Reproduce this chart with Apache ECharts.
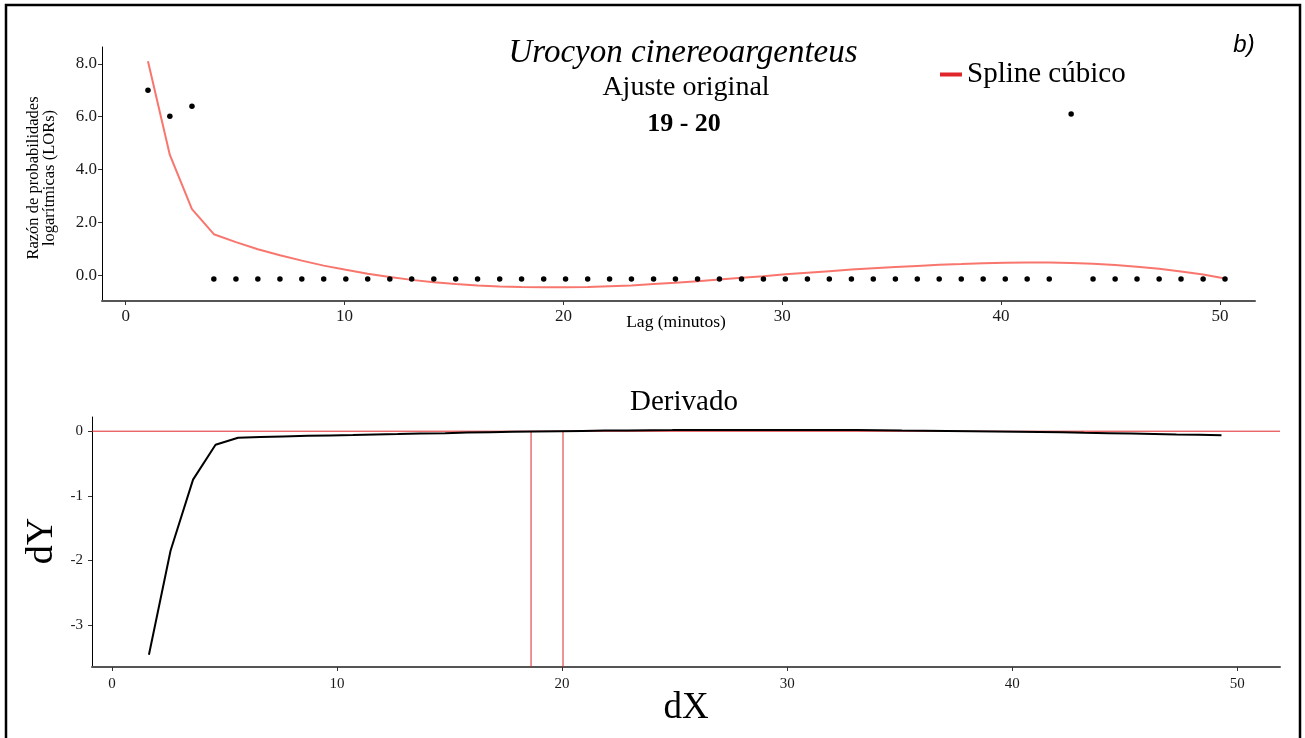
<!DOCTYPE html>
<html><head><meta charset="utf-8">
<script src="https://cdn.jsdelivr.net/npm/echarts/dist/echarts.min.js"></script>
<style>html,body{margin:0;padding:0;background:#fff}#c{width:1305px;height:738px}</style>
</head><body><div id="c"></div>
<script>
// ---- data ----
const lags = [1.02, 2.02, 3.03, 4.03, 5.04, 6.04, 7.05, 8.05, 9.05, 10.06, 11.06, 12.07, 13.07, 14.08, 15.08, 16.08, 17.09, 18.09, 19.10, 20.10, 21.11, 22.11, 23.11, 24.12, 25.12, 26.13, 27.13, 28.14, 29.14, 30.14, 31.15, 32.15, 33.16, 34.16, 35.17, 36.17, 37.17, 38.18, 39.18, 40.19, 41.19, 42.20, 43.20, 44.20, 45.21, 46.21, 47.22, 48.22, 49.23, 50.23];
const observedLOR = [7.0, 6.02, 6.4, -0.15, -0.15, -0.15, -0.15, -0.15, -0.15, -0.15, -0.15, -0.15, -0.15, -0.15, -0.15, -0.15, -0.15, -0.15, -0.15, -0.15, -0.15, -0.15, -0.15, -0.15, -0.15, -0.15, -0.15, -0.15, -0.15, -0.15, -0.15, -0.15, -0.15, -0.15, -0.15, -0.15, -0.15, -0.15, -0.15, -0.15, -0.15, -0.15, 6.1, -0.15, -0.15, -0.15, -0.15, -0.15, -0.15, -0.15];
const splineLOR = [8.1, 4.55, 2.5, 1.55, 1.25, 0.98, 0.75, 0.55, 0.36, 0.2, 0.05, -0.07, -0.18, -0.27, -0.34, -0.39, -0.43, -0.45, -0.46, -0.46, -0.45, -0.42, -0.39, -0.34, -0.29, -0.23, -0.17, -0.1, -0.04, 0.03, 0.09, 0.15, 0.21, 0.26, 0.31, 0.35, 0.39, 0.42, 0.45, 0.47, 0.48, 0.48, 0.46, 0.43, 0.38, 0.32, 0.24, 0.14, 0.02, -0.13];
const dX = [1.64, 2.6, 3.6, 4.6, 5.6, 6.6, 7.6, 8.7, 9.7, 10.7, 11.7, 12.7, 13.7, 14.8, 15.8, 16.8, 17.8, 18.8, 19.9, 20.9, 21.9, 22.9, 23.9, 24.9, 26.0, 27.0, 28.0, 29.0, 30.0, 31.0, 32.1, 33.1, 34.1, 35.1, 36.1, 37.1, 38.2, 39.2, 40.2, 41.2, 42.2, 43.2, 44.3, 45.3, 46.3, 47.3, 48.3, 49.3];
const dY = [-3.46, -1.85, -0.75, -0.21, -0.10, -0.09, -0.08, -0.07, -0.065, -0.06, -0.05, -0.045, -0.035, -0.03, -0.02, -0.015, -0.01, -0.005, 0.0, 0.005, 0.01, 0.012, 0.015, 0.017, 0.02, 0.02, 0.02, 0.02, 0.02, 0.02, 0.02, 0.018, 0.015, 0.01, 0.007, 0.004, 0.0, -0.003, -0.008, -0.012, -0.018, -0.025, -0.03, -0.037, -0.043, -0.05, -0.055, -0.062];
const breakpoints = [18.62, 20.04];
const topXTicks = [0, 10, 20, 30, 40, 50];
const topYTicks = [0, 2, 4, 6, 8];
const botXTicks = [0, 10, 20, 30, 40, 50];
const botYTicks = [-3, -2, -1, 0];
const titleSpecies = 'Urocyon cinereoargenteus';
const titleFit = 'Ajuste original';
const titleRange = '19 - 20';
const legendName = 'Spline cúbico';

// ---- chart ----
const serif = '"Liberation Serif", "Times New Roman", serif';
const chart = echarts.init(document.getElementById('c'), null, {renderer: 'canvas'});
const pairs = (xs, ys) => xs.map((x, i) => [x, ys[i]]);
const RED = '#e0262b';
const BOT_X = [-0.89, 51.9];
const BOT_Y = [-3.65, 0.22];

const axisBase = (ticks, fmt, size) => ({
  type: 'value',
  splitLine: {show: false},
  axisLine: {show: true, onZero: false, lineStyle: {color: '#000', width: 1}},
  axisTick: {show: true, customValues: ticks, length: 4, lineStyle: {color: '#333'}},
  axisLabel: {customValues: ticks, color: '#1a1a1a', fontFamily: serif, fontSize: size, formatter: fmt}
});

const xTop = axisBase(topXTicks, v => String(v), 17);
Object.assign(xTop, {gridIndex: 0, min: -1.08, max: 51.6});
xTop.axisLine.lineStyle = {color: '#555', width: 2};
xTop.axisLabel.margin = 7;
const yTop = axisBase(topYTicks, v => v.toFixed(1), 17);
Object.assign(yTop, {gridIndex: 0, min: -0.98, max: 8.64});
yTop.axisLabel.margin = 5;
const xBot = axisBase(botXTicks, v => String(v), 15);
Object.assign(xBot, {gridIndex: 1, min: BOT_X[0], max: BOT_X[1]});
xBot.axisLine.lineStyle = {color: '#555', width: 2};
xBot.axisLabel.margin = 10;
const yBot = axisBase(botYTicks, v => String(v), 15);
Object.assign(yBot, {gridIndex: 1, min: BOT_Y[0], max: BOT_Y[1]});
yBot.axisLabel.margin = 9;

const refSeries = (name, data) => ({
  name, type: 'line', xAxisIndex: 1, yAxisIndex: 1, data,
  showSymbol: false, symbol: 'none', silent: true,
  lineStyle: {color: RED, width: 1}, itemStyle: {color: RED}, z: 2
});

const option = {
  backgroundColor: '#fff',
  animation: false,
  grid: [
    {left: 102, top: 47, width: 1153, height: 254},
    {left: 92, top: 417, width: 1188, height: 250}
  ],
  xAxis: [xTop, xBot],
  yAxis: [yTop, yBot],
  legend: {
    left: 935, top: 55,
    icon: 'rect', itemWidth: 22, itemHeight: 4, itemGap: 6,
    textStyle: {fontFamily: serif, fontSize: 29, color: '#000'},
    data: [{name: legendName, itemStyle: {color: RED}}]
  },
  series: [
    {
      name: legendName, type: 'line', xAxisIndex: 0, yAxisIndex: 0,
      data: pairs(lags, splineLOR), showSymbol: false, symbol: 'none',
      lineStyle: {color: '#f8766d', width: 2}, itemStyle: {color: RED}, z: 2
    },
    {
      name: 'obs', type: 'scatter', xAxisIndex: 0, yAxisIndex: 0,
      data: pairs(lags, observedLOR), symbolSize: 5.5,
      itemStyle: {color: '#000', opacity: 1}, z: 3
    },
    refSeries('zero', [[BOT_X[0], 0], [BOT_X[1], 0]]),
    ...breakpoints.map((b, i) => refSeries('break' + i, [[b, 0], [b, BOT_Y[0]]])),
    {
      name: 'deriv', type: 'line', xAxisIndex: 1, yAxisIndex: 1,
      data: pairs(dX, dY), showSymbol: false, symbol: 'none',
      lineStyle: {color: '#000', width: 2}, itemStyle: {color: '#000'}, z: 3
    }
  ],
  graphic: [
    {type: 'rect', shape: {x: 6, y: 5, width: 1294, height: 745}, style: {fill: 'none', stroke: '#000', lineWidth: 2.5}, silent: true},
    {type: 'text', x: 683, y: 53, style: {text: titleSpecies, font: 'italic 33px ' + serif, fill: '#000', textAlign: 'center', textVerticalAlign: 'middle'}},
    {type: 'text', x: 686, y: 88, style: {text: titleFit, font: '28px ' + serif, fill: '#000', textAlign: 'center', textVerticalAlign: 'middle'}},
    {type: 'text', x: 684, y: 124, style: {text: titleRange, font: 'bold 26px ' + serif, fill: '#000', textAlign: 'center', textVerticalAlign: 'middle'}},
    {type: 'text', x: 1244, y: 45, style: {text: 'b)', font: 'italic 24px "Liberation Sans", Arial, sans-serif', fill: '#000', textAlign: 'center', textVerticalAlign: 'middle'}},
    {type: 'text', x: 42, y: 178, rotation: Math.PI / 2, style: {text: 'Razón de probabilidades\nlogarítmicas (LORs)', font: '16.5px ' + serif, lineHeight: 16, fill: '#000', textAlign: 'center', textVerticalAlign: 'middle'}},
    {type: 'text', x: 676, y: 322, style: {text: 'Lag (minutos)', font: '17.5px ' + serif, fill: '#000', textAlign: 'center', textVerticalAlign: 'middle'}},
    {type: 'text', x: 684, y: 402, style: {text: 'Derivado', font: '29px ' + serif, fill: '#000', textAlign: 'center', textVerticalAlign: 'middle'}},
    {type: 'text', x: 42, y: 541, rotation: Math.PI / 2, style: {text: 'dY', font: '38px ' + serif, fill: '#000', textAlign: 'center', textVerticalAlign: 'middle'}},
    {type: 'text', x: 686, y: 708, style: {text: 'dX', font: '37px ' + serif, fill: '#000', textAlign: 'center', textVerticalAlign: 'middle'}}
  ]
};
chart.setOption(option);
</script>
</body></html>
